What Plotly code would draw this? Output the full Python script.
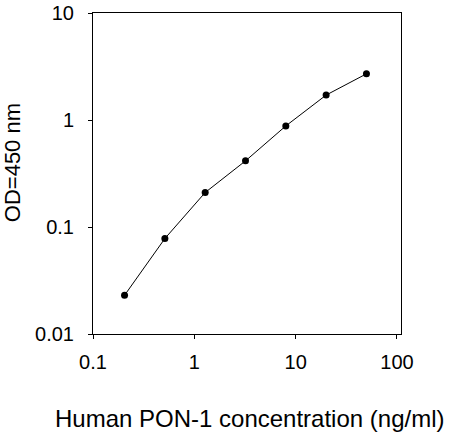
import plotly.graph_objects as go

# standard curve: concentration (ng/ml) vs OD at 450 nm
conc = [0.2048, 0.512, 1.28, 3.2, 8, 20, 50]
od = [0.023, 0.078, 0.21, 0.415, 0.88, 1.71, 2.7]

x_ticks = [0.1, 1, 10, 100]
x_labels = ["0.1", "1", "10", "100"]
y_ticks = [0.01, 0.1, 1, 10]
y_labels = ["0.01", "0.1", "1", "10"]

font = "Liberation Sans, Arial, sans-serif"

fig = go.Figure()
fig.add_trace(go.Scatter(
    x=conc, y=od, mode="lines+markers",
    line=dict(color="black", width=1),
    marker=dict(color="black", size=7),
    showlegend=False,
))

axis_style = dict(
    type="log", showgrid=False, zeroline=False, automargin=False,
    showline=True, linecolor="black", linewidth=1, mirror=True,
    ticks="outside", ticklen=4, tickwidth=1, tickcolor="black",
    tickfont=dict(family=font, size=20, color="black"),
)

fig.update_xaxes(axis_style, range=[-1, 2.04],
                 tickvals=x_ticks, ticktext=x_labels, ticklabelstandoff=6)
fig.update_yaxes(axis_style, range=[-2, 1],
                 tickvals=y_ticks, ticktext=y_labels, ticklabelstandoff=10)

fig.update_layout(
    width=461, height=438,
    margin=dict(l=93, r=60, t=12.5, b=104),
    plot_bgcolor="white", paper_bgcolor="white",
    annotations=[
        dict(text="Human PON-1 concentration (ng/ml)", xref="paper", yref="paper",
             x=0.509, y=-0.264, xanchor="center", yanchor="middle", showarrow=False,
             font=dict(family=font, size=24, color="black")),
        dict(text="OD=450 nm", xref="paper", yref="paper", textangle=-90,
             x=-0.261, y=0.534, xanchor="center", yanchor="middle", showarrow=False,
             font=dict(family=font, size=22, color="black")),
    ],
)

# drop the browser's default 8px body margin so the figure sits at the corner
fig.write_html("out.html", config={"displayModeBar": False},
               post_script="document.body.style.margin='0';")
